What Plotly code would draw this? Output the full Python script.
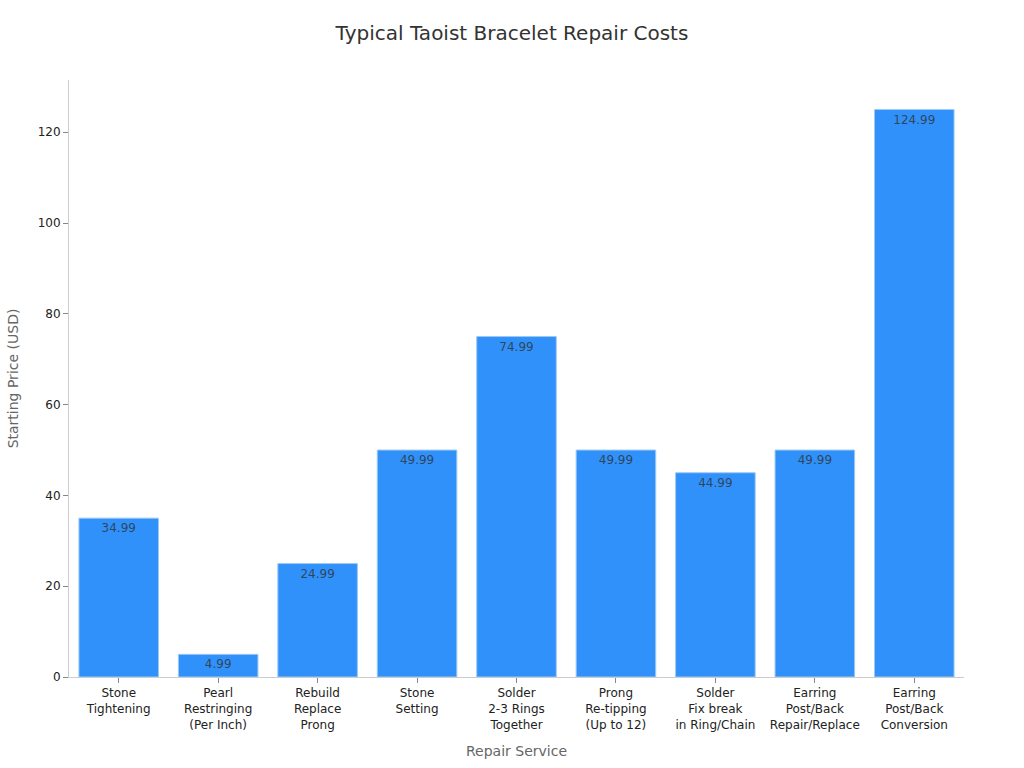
import plotly.graph_objects as go

categories = ["Stone<br>Tightening", "Pearl<br>Restringing<br>(Per Inch)", "Rebuild<br>Replace<br>Prong",
              "Stone<br>Setting", "Solder<br>2-3 Rings<br>Together", "Prong<br>Re-tipping<br>(Up to 12)",
              "Solder<br>Fix break<br>in Ring/Chain", "Earring<br>Post/Back<br>Repair/Replace",
              "Earring<br>Post/Back<br>Conversion"]
prices = [34.99, 4.99, 24.99, 49.99, 74.99, 49.99, 44.99, 49.99, 124.99]
labels = [f"{v:.2f}" for v in prices]

fig = go.Figure(go.Bar(
    x=categories, y=prices, text=labels, textposition="inside", insidetextanchor="end",
    textfont=dict(color="rgba(50,50,50,0.8)", size=12, family="DejaVu Sans"),
    marker=dict(color="#2F91F9", line=dict(color="#9CC8F5", width=1)),
))
fig.update_layout(
    width=1024, height=768,
    template="simple_white",
    font=dict(family="DejaVu Sans", color="#333"),
    title=dict(text="Typical Taoist Bracelet Repair Costs", x=0.5, xanchor="center", y=0.966,
               font=dict(size=20, color="#333")),
    margin=dict(l=69, r=60, t=80, b=91),
    bargap=0.2,
    xaxis=dict(title=dict(text="Repair Service", font=dict(size=14, color="#666")),
               tickfont=dict(size=12, color="#222"), linecolor="#ccc", tickcolor="#888", ticklen=5),
    yaxis=dict(title=dict(text="Starting Price (USD)", font=dict(size=14, color="#666")),
               tickfont=dict(size=12, color="#222"), linecolor="#ccc", tickcolor="#888", ticklen=5,
               range=[0, 131.5], dtick=20),
    showlegend=False,
)
fig.write_html("out.html")
